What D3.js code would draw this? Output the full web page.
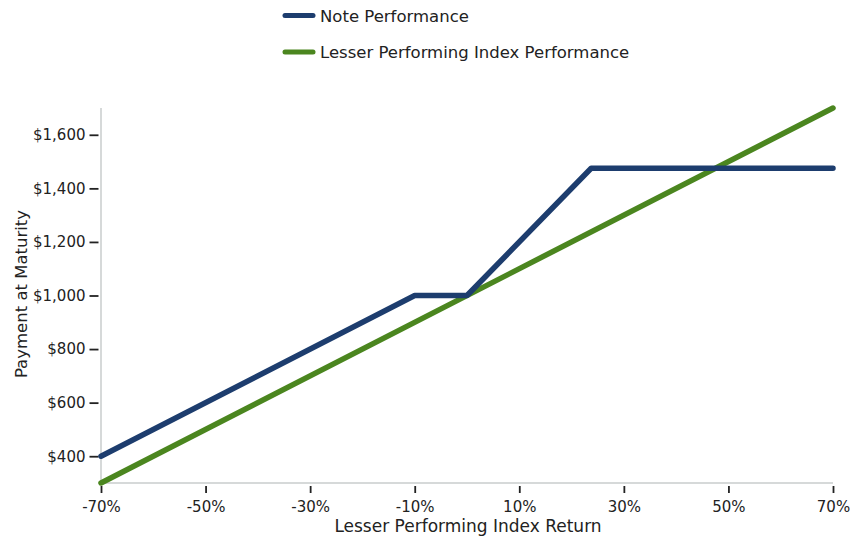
<!DOCTYPE html>
<html>
<head>
<meta charset="utf-8">
<script src="https://cdn.jsdelivr.net/npm/d3@7"></script>
<style>
  body { margin: 0; background: #fff; }
  text { font-family: "DejaVu Sans", sans-serif; fill: #222; }
</style>
</head>
<body>
<div id="graph"></div>
<script>
// index return (%) at each kink of the note payoff, and the payment there
var noteReturns = [-70, -10, 0, 23.75, 70];
var notePayments = [400, 1000, 1000, 1475, 1475];

// the lesser performing index itself, straight line
var indexReturns = [-70, 70];
var indexPayments = [300, 1700];

var xTicks = [-70, -50, -30, -10, 10, 30, 50, 70];
var yTicks = [400, 600, 800, 1000, 1200, 1400, 1600];

var series = [
	{ name: "Note Performance", color: "#1d3d6e",
		x: noteReturns, y: notePayments },
	{ name: "Lesser Performing Index Performance", color: "#4b861f",
		x: indexReturns, y: indexPayments }
];

var width = 850, height = 537;
// note: "top" is taken by window.top, hence the prefix
var plotLeft = 101, plotRight = 833, plotTop = 108, plotBottom = 483;

var xScale = d3.scaleLinear().domain([-70, 70]).range([plotLeft, plotRight]);
var yScale = d3.scaleLinear().domain([300, 1700]).range([plotBottom, plotTop]);

var svg = d3.select("#graph").append("svg")
	.attr("width", width)
	.attr("height", height);

// spines, light grey, ticks sit a bit off them
svg.append("line")
	.attr("x1", plotLeft).attr("x2", plotLeft)
	.attr("y1", plotTop).attr("y2", plotBottom)
	.attr("stroke", "#c9cdcd").attr("stroke-width", 1.5);
svg.append("line")
	.attr("x1", plotLeft).attr("x2", plotRight)
	.attr("y1", plotBottom).attr("y2", plotBottom)
	.attr("stroke", "#c9cdcd").attr("stroke-width", 1.5);

var xAxis = d3.axisBottom(xScale)
	.tickValues(xTicks)
	.tickSize(7)
	.tickPadding(8)
	.tickFormat(function (d) { return d + "%"; });

var yAxis = d3.axisLeft(yScale)
	.tickValues(yTicks)
	.tickSize(9)
	.tickPadding(4)
	.tickFormat(function (d) { return "$" + d3.format(",")(d); });

var gx = svg.append("g")
	.attr("transform", "translate(0," + (plotBottom + 3) + ")")
	.call(xAxis);
var gy = svg.append("g")
	.attr("transform", "translate(" + (plotLeft - 2.5) + ",0)")
	.call(yAxis);

[gx, gy].forEach(function (g) {
	g.select(".domain").remove();
	g.selectAll(".tick line").attr("stroke", "#222").attr("stroke-width", 1.8);
	g.selectAll(".tick text")
		.attr("font-size", 15)
		.style("font-family", "DejaVu Sans, sans-serif")
		.attr("fill", "#222");
});

svg.append("text")
	.attr("x", (plotLeft + plotRight) / 2 + 1)
	.attr("y", 532)
	.attr("text-anchor", "middle")
	.attr("font-size", 17)
	.text("Lesser Performing Index Return");

svg.append("text")
	.attr("transform", "translate(27,294) rotate(-90)")
	.attr("text-anchor", "middle")
	.attr("font-size", 16.5)
	.text("Payment at Maturity");

var line = d3.line()
	.x(function (d) { return xScale(d[0]); })
	.y(function (d) { return yScale(d[1]); });

// index line first so the note line sits on top of it
series.slice().reverse().forEach(function (s) {
	var pts = s.x.map(function (v, i) { return [v, s.y[i]]; });
	svg.append("path")
		.datum(pts)
		.attr("fill", "none")
		.attr("stroke", s.color)
		.attr("stroke-width", 5.5)
		.attr("stroke-linecap", "round")
		.attr("stroke-linejoin", "round")
		.attr("d", line);
});

var legend = svg.append("g");
series.forEach(function (s, i) {
	var y = 15.5 + i * 36.5;
	legend.append("line")
		.attr("x1", 285).attr("x2", 313)
		.attr("y1", y).attr("y2", y)
		.attr("stroke", s.color)
		.attr("stroke-width", 5)
		.attr("stroke-linecap", "round");
	legend.append("text")
		.attr("x", 320)
		.attr("y", y + 6)
		.attr("font-size", 16.5)
		.text(s.name);
});
</script>
</body>
</html>
